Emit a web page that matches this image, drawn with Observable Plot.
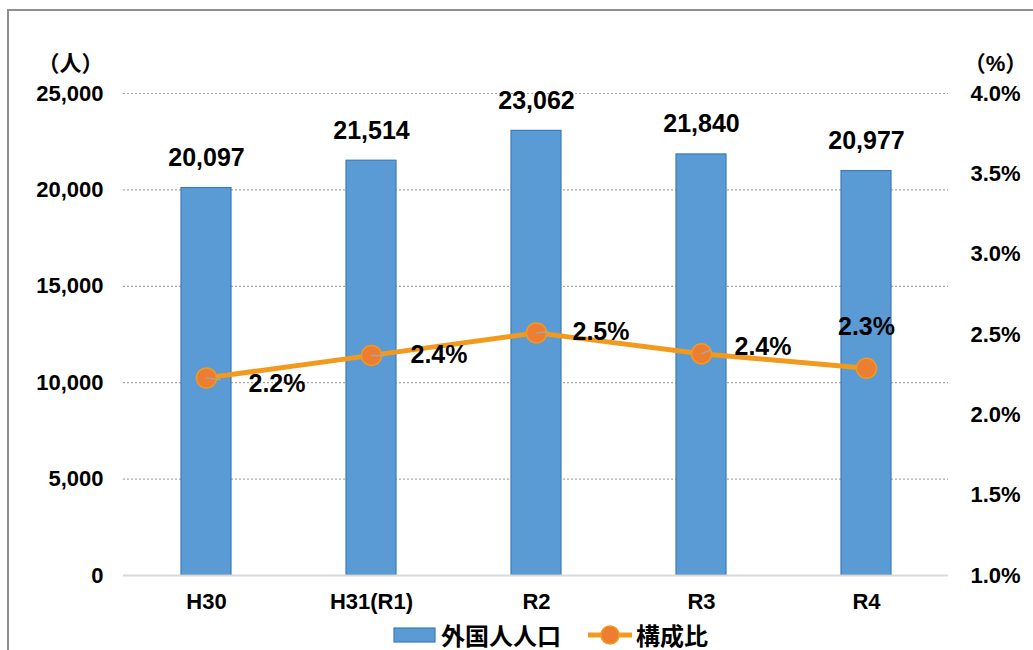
<!DOCTYPE html>
<html>
<head>
<meta charset="utf-8">
<script src="https://cdn.jsdelivr.net/npm/d3@7"></script>
<script src="https://cdn.jsdelivr.net/npm/@observablehq/plot@0.6"></script>
<style>
  html, body { margin: 0; padding: 0; background: #fff; }
  #wrap { position: relative; width: 1033px; height: 650px; overflow: hidden; font-family: "Liberation Sans", "Noto Sans CJK JP", sans-serif; }
  #frame { position: absolute; left: 7px; top: 9px; width: 1100px; height: 700px; border: 2px solid #8f8f8f; box-sizing: border-box; }
  #chart { position: absolute; left: 0; top: 0; }
  #legend { position: absolute; left: 393px; top: 620px; display: flex; align-items: center; font-weight: bold; font-size: 24px; line-height: 30px; color: #000; font-family: "Noto Sans CJK JP", "Liberation Sans", sans-serif; }
  #legend .item { display: flex; align-items: center; }
  #legend svg { display: block; }
</style>
</head>
<body>
<div id="wrap">
  <div id="frame"></div>
  <div id="chart"></div>
  <div id="legend"></div>
</div>
<script>
// ---- data ----
const categories = ["H30", "H31(R1)", "R2", "R3", "R4"];
const population = [20097, 21514, 23062, 21840, 20977];
const ratio = [2.23, 2.37, 2.51, 2.38, 2.29];
const ratioLabels = ["2.2%", "2.4%", "2.5%", "2.4%", "2.3%"];
const leftTicks = [0, 5000, 10000, 15000, 20000, 25000];
const rightTicks = [1.0, 1.5, 2.0, 2.5, 3.0, 3.5, 4.0];
const seriesNames = ["外国人人口", "構成比"];

// ---- layout (label offsets, px) ----
const labelLayout = [
  {dx: 42, dy: 6, anchor: "start", lead: 34, rot: 98},
  {dx: 39, dy: 0, anchor: "start", lead: 31, rot: 92},
  {dx: 36, dy: -1, anchor: "start", lead: 29, rot: 84},
  {dx: 33, dy: -7, anchor: "start", lead: 24, rot: 68},
  {dx: 0, dy: -41, anchor: "middle", lead: 0, rot: 0}
];

// right axis (percent) mapped onto the left axis domain
const yMax = 25000, pMin = 1.0, pMax = 4.0;
const toY = p => (p - pMin) / (pMax - pMin) * yMax;
const fromY = y => pMin + y / yMax * (pMax - pMin);

const data = categories.map((c, i) => ({
  cat: c, pop: population[i], pct: ratio[i], pctY: toY(ratio[i]),
  popLabel: d3.format(",")(population[i]), pctLabel: ratioLabels[i], ...labelLayout[i]
}));

const blue = "#5B9BD5", blueStroke = "#3A7CB8";
const orangeLine = "#F29A1E", orangeDot = "#ED7D31";

const leader = {draw(ctx, l) { ctx.moveTo(0, 0); ctx.lineTo(0, -l); }};

const chart = Plot.plot({
  width: 1033,
  height: 620,
  marginLeft: 123,
  marginRight: 85,
  marginTop: 93,
  marginBottom: 45,
  style: {fontFamily: '"Liberation Sans", "Noto Sans CJK JP", sans-serif', fontWeight: "bold", fontSize: "22px", color: "#000", background: "transparent"},
  x: {domain: categories, paddingInner: 0.7, paddingOuter: 0.35, label: null},
  y: {domain: [0, yMax], label: null},
  marks: [
    Plot.ruleY(leftTicks.filter(d => d > 0), {stroke: "#a6a6a6", strokeDasharray: "2,2", strokeWidth: 1.2, strokeOpacity: 1}),
    Plot.barY(data, {x: "cat", y: "pop", fill: blue, stroke: blueStroke, strokeWidth: 1.2}),
    Plot.ruleY([0], {stroke: "#d9d9d9", strokeWidth: 2, strokeOpacity: 1}),
    Plot.axisY(leftTicks, {anchor: "left", tickSize: 0, tickPadding: 20, tickFormat: d3.format(","), fontSize: 22, fontWeight: "bold", label: null}),
    Plot.axisY(rightTicks.map(toY), {anchor: "right", tickSize: 0, tickPadding: 22, tickFormat: d => fromY(d).toFixed(1) + "%", fontSize: 22, fontWeight: "bold", label: null}),
    Plot.axisX({tickSize: 0, tickPadding: 18, fontSize: 22, fontWeight: "bold", label: null}),
    Plot.text(["（人）"], {frameAnchor: "top-left", dx: -53, dy: -38, fontSize: 22, fontWeight: "bold", textAnchor: "middle"}),
    Plot.text(["（%）"], {frameAnchor: "top-right", dx: 47, dy: -38, fontSize: 22, fontWeight: "bold", textAnchor: "middle"}),
    Plot.text(data, {x: "cat", y: "pop", text: "popLabel", dy: -30, fontSize: 25, fontWeight: "bold"}),
    Plot.line(data, {x: "cat", y: "pctY", stroke: orangeLine, strokeWidth: 5}),
    Plot.dot(data, {x: "cat", y: "pctY", r: 10, fill: orangeDot, stroke: orangeLine, strokeWidth: 1.5}),
    Plot.vector(data.filter(d => d.lead > 0), {x: "cat", y: "pctY", length: "lead", rotate: "rot", anchor: "start", shape: leader, stroke: "#a6a6a6", strokeWidth: 1.5}),
    ...data.map(d => Plot.text([d], {x: "cat", y: "pctY", text: "pctLabel", dx: d.dx, dy: d.dy, textAnchor: d.anchor, fontSize: 25, fontWeight: "bold"}))
  ]
});
document.getElementById("chart").appendChild(chart);

// ---- legend ----
const legend = document.getElementById("legend");
legend.innerHTML = `
  <div class="item">
    <svg width="44" height="18"><rect x="1" y="2" width="41" height="14" fill="${blue}" stroke="${blueStroke}" stroke-width="1.2"/></svg>
    <span style="margin-left:4px">${seriesNames[0]}</span>
  </div>
  <div class="item" style="margin-left:26px">
    <svg width="46" height="22"><line x1="1" y1="11" x2="45" y2="11" stroke="${orangeLine}" stroke-width="5"/><circle cx="23" cy="11" r="9" fill="${orangeDot}" stroke="${orangeLine}" stroke-width="1.5"/></svg>
    <span style="margin-left:3px">${seriesNames[1]}</span>
  </div>`;
</script>
</body>
</html>
